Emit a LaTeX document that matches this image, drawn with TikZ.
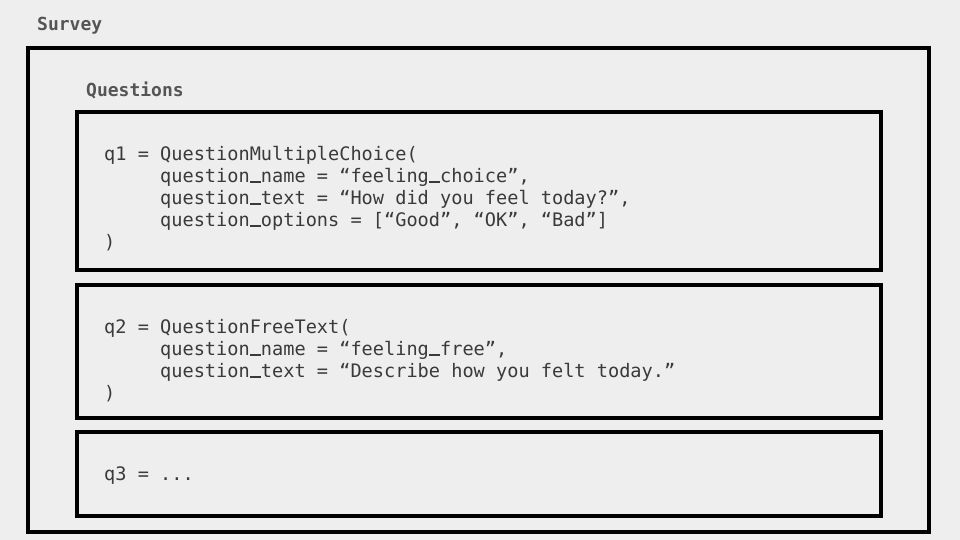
\documentclass[tikz,border=0pt]{standalone}
\usepackage{fontspec}
\setmonofont{DejaVu Sans Mono}
\definecolor{bg}{HTML}{EEEEEE}
\definecolor{ink}{HTML}{3A3A3A}
\definecolor{lbl}{HTML}{555555}
\newcommand{\ind}{\hspace*{3.01em}}
\newcommand{\us}{\makebox[0.602em]{\rule[-0.03em]{0.56em}{0.09em}}}

\begin{document}
\begin{tikzpicture}[x=1pt,y=-1pt,
  frame/.style={draw=black,line width=3.2pt,anchor=north west,inner sep=0pt,outer sep=0pt},
  code/.style={anchor=north west,inner sep=0pt,align=left,text=ink,
    font=\ttfamily\fontsize{18.6}{22}\selectfont},
  label/.style={anchor=west,inner sep=0pt,text=lbl,
    font=\ttfamily\bfseries\fontsize{18}{22}\selectfont}]
  \fill[bg] (0,0) rectangle (960,540); % page
  \useasboundingbox (0,0) rectangle (960,540);

  % outer and inner boxes
  \node[frame,minimum width=901pt,minimum height=484pt] (survey) at (28,48) {};
  \node[frame,minimum width=804pt,minimum height=158pt] (box1) at (77,112) {};
  \node[frame,minimum width=804pt,minimum height=133pt] (box2) at (77,285) {};
  \node[frame,minimum width=804pt,minimum height=84pt] (box3) at (77,432) {};

  \node[label] (surveylbl) at (37,26) {Survey};
  \node[label] (questionslbl) at (86,90) {Questions};

  \node[code] (q1) at (104,146) {q1 = QuestionMultipleChoice(\\
    \ind question\us name = “feeling\us choice”,\\
    \ind question\us text = “How did you feel today?”,\\
    \ind question\us options = [“Good”, “OK”, “Bad”]\\
    )};
  \node[code] (q2) at (104,319) {q2 = QuestionFreeText(\\
    \ind question\us name = “feeling\us free”,\\
    \ind question\us text = “Describe how you felt today.”\\
    )};
  \node[code] (q3) at (104,466) {q3 = ...};
\end{tikzpicture}
\end{document}
